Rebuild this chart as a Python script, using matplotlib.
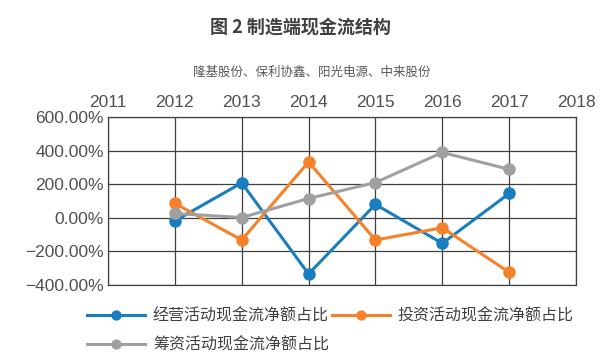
import matplotlib
matplotlib.use('Agg')
import matplotlib.pyplot as plt
from matplotlib.ticker import FuncFormatter

plt.rcParams['font.family'] = ['Noto Sans CJK SC', 'DejaVu Sans']
plt.rcParams['axes.unicode_minus'] = False

# 数据
years = [2012, 2013, 2014, 2015, 2016, 2017]
operating = [-18, 208, -334, 80, -152, 145]
investing = [86, -132, 333, -132, -59, -324]
financing = [26, 2, 115, 210, 389, 289]
series_names = ['经营活动现金流净额占比', '投资活动现金流净额占比', '筹资活动现金流净额占比']
colors = ['#1A7DC0', '#F5822A', '#A0A0A0']

title = '图 2 制造端现金流结构'
subtitle = '隆基股份、保利协鑫、阳光电源、中来股份'

fig = plt.figure(figsize=(6, 3.59), dpi=100)
ax = fig.add_axes([0.18, 0.206, 0.78, 0.468])

lines = []
for vals, name, c in zip([operating, investing, financing], series_names, colors):
    ln, = ax.plot(years, vals, color=c, lw=2.2, marker='o', ms=8, label=name)
    lines.append(ln)

ax.set_xlim(2011, 2018)
ax.set_ylim(-400, 600)
ax.set_xticks(range(2011, 2019))
ax.set_yticks(range(-400, 601, 200))
ax.yaxis.set_major_formatter(FuncFormatter(lambda v, p: f'{v:.2f}%'.replace('-', '−')))
ax.xaxis.tick_top()
ax.tick_params(length=0, labelsize=12.5, colors='#505050', pad=5)
ax.tick_params(axis='y', pad=3)
for t in ax.get_xticklabels() + ax.get_yticklabels():
    t.set_family(['Liberation Sans', 'DejaVu Sans'])
ax.grid(True, color='#404040', lw=0.9)
ax.set_axisbelow(True)
for s in ax.spines.values():
    s.set_color('#404040')
    s.set_linewidth(0.9)

fig.text(0.5, 0.925, title, ha='center', va='center', fontsize=13, fontweight='bold', color='#404040')
fig.text(0.52, 0.80, subtitle, ha='center', va='center', fontsize=9, color='#595959')

# 按行排列图例：第一行 经营、投资；第二行 筹资
order = [lines[0], lines[2], lines[1]]
leg = fig.legend(order, [l.get_label() for l in order], loc='upper left',
                 bbox_to_anchor=(0.135, 0.16), ncol=2, frameon=False,
                 fontsize=11.5, handlelength=3.6, columnspacing=0.2, handletextpad=0.5,
                 labelspacing=0.75, borderaxespad=0, markerscale=0.8)
for t in leg.get_texts():
    t.set_color('#404040')

fig.savefig('out.png', dpi=100)
